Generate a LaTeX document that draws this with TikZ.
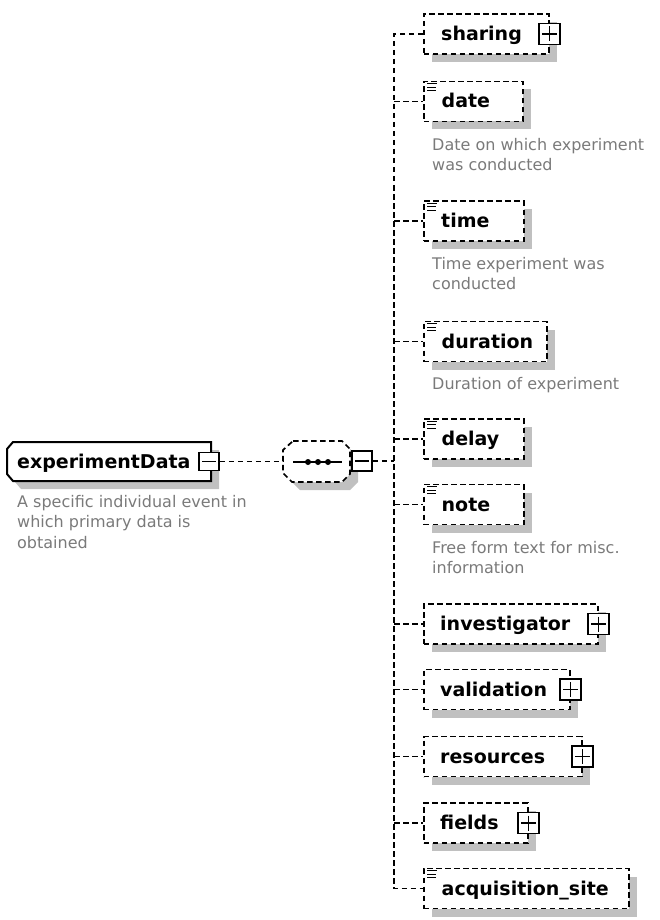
\documentclass[tikz,border=0pt]{standalone}
\usepackage{fontspec}
\setmainfont{DejaVu Sans}
\usetikzlibrary{calc,shadows}
\definecolor{shd}{HTML}{C0C0C0}
\definecolor{desc}{HTML}{7A7A7A}
\tikzset{
  dl/.style={line width=1.7pt, dash pattern=on 5.5pt off 3.5pt},
  ebox/.style={draw, line width=1.7pt, dash pattern=on 5.5pt off 3.5pt, fill=white,
    anchor=west, inner sep=0pt, minimum height=40pt,
    general shadow={fill=shd, shadow xshift=8pt, shadow yshift=-8pt}},
  lbl/.style={font=\fontsize{19}{23}\selectfont\bfseries, anchor=base west, inner sep=0pt},
  dsc/.style={font=\fontsize{16}{20}\selectfont, text=desc, anchor=base west, inner sep=0pt},
  tog/.style={draw, line width=1.5pt, solid, fill=white, minimum width=20pt, minimum height=20pt, inner sep=0pt},
  togm/.style={tog, path picture={\draw[line width=1.5pt]
      ([xshift=3pt]path picture bounding box.west) -- ([xshift=-3pt]path picture bounding box.east);}},
  togp/.style={tog, path picture={\draw[line width=1.5pt]
      ([xshift=3pt]path picture bounding box.west) -- ([xshift=-3pt]path picture bounding box.east)
      ([yshift=-3pt]path picture bounding box.north) -- ([yshift=3pt]path picture bounding box.south);}},
  icon/.style={line width=1.2pt}
}
\newcommand\simpleicon[1]{%
  \draw[icon] ($(#1.north west)+(4,3)$) -- ++(10,0);
  \draw[icon] ($(#1.north west)+(4,6.5)$) -- ++(9,0);
  \draw[icon] ($(#1.north west)+(4,10)$) -- ++(9,0);}
\begin{document}
\begin{tikzpicture}[x=1pt,y=-1pt]
\useasboundingbox (0,0) rectangle (660,920);

% root element
\fill[shd] (21,450) -- (219,450) -- (219,489) -- (21,489) -- (15,482) -- (15,457) -- cycle;
\draw[line width=2pt, fill=white] (13,442) -- (211,442) -- (211,481) -- (13,481) -- (7,474) -- (7,449) -- cycle;
\node[lbl] (rootlbl) at (17,468) {experimentData};
\node[togm, minimum height=18pt] (rootm) at (209,461.5) {};
\node[dsc] (rd1) at (17,507) {A specific individual event in};
\node[dsc] (rd2) at (17,527.5) {which primary data is};
\node[dsc] (rd3) at (17,548) {obtained};

% sequence compositor
\fill[shd] (301,449) -- (350,449) -- (358,457) -- (358,482) -- (350,490) -- (300,490) -- (291,481) -- (291,458) -- cycle;
\draw[dl, fill=white] (293,441) -- (342,441) -- (350,449) -- (350,474) -- (342,482) -- (292,482) -- (283,473) -- (283,450) -- cycle;
\node[minimum width=67pt, minimum height=41pt, inner sep=0pt] (seq) at (316.5,461.5) {};
\draw[line width=1.8pt] (293,462) -- (342,462);
\fill (308,462) circle (3) (318,462) circle (3) (328,462) circle (3);
\node[togm] (seqm) at (362,461) {};
\coordinate (junc) at (394,461);

\draw[dl] (rootm.east) -- (seq.west);
\draw[dl] (seqm.east) -- (junc);

% children
\node[ebox, minimum width=125pt] (sharing) at (423,34) {};
\node[lbl] (sharinglbl) at (441,40.5) {sharing};
\node[togp, minimum width=21pt, minimum height=21pt] (sharingp) at (sharing.east) {};

\node[ebox, minimum width=99pt] (date) at (423,101.5) {};
\simpleicon{date}
\node[lbl] (datelbl) at (441.5,108) {date};
\node[dsc] (dd1) at (432,150.5) {Date on which experiment};
\node[dsc] (dd2) at (432,171) {was conducted};

\node[ebox, minimum width=100pt] (time) at (423,221) {};
\simpleicon{time}
\node[lbl] (timelbl) at (441,227.5) {time};
\node[dsc] (td1) at (432,269) {Time experiment was};
\node[dsc] (td2) at (432,289.5) {conducted};

\node[ebox, minimum width=123pt] (duration) at (423,341.5) {};
\simpleicon{duration}
\node[lbl] (durationlbl) at (441.5,348) {duration};
\node[dsc] (dud1) at (432,389) {Duration of experiment};

\node[ebox, minimum width=100pt] (delay) at (423,439) {};
\simpleicon{delay}
\node[lbl] (delaylbl) at (441.5,445.5) {delay};

\node[ebox, minimum width=100pt] (note) at (423,504.5) {};
\simpleicon{note}
\node[lbl] (notelbl) at (441.5,511) {note};
\node[dsc] (nd1) at (432,553) {Free form text for misc.};
\node[dsc] (nd2) at (432,573.5) {information};

\node[ebox, minimum width=174pt] (investigator) at (423,624) {};
\node[lbl] (investigatorlbl) at (440,630.5) {investigator};
\node[togp, minimum width=21pt, minimum height=21pt] (investigatorp) at (investigator.east) {};

\node[ebox, minimum width=146pt] (validation) at (423,689.5) {};
\node[lbl] (validationlbl) at (440,696) {validation};
\node[togp, minimum width=21pt, minimum height=21pt] (validationp) at (validation.east) {};

\node[ebox, minimum width=158pt] (resources) at (423,756.5) {};
\node[lbl] (resourceslbl) at (440,763) {resources};
\node[togp, minimum width=21pt, minimum height=21pt] (resourcesp) at (resources.east) {};

\node[ebox, minimum width=104pt] (fields) at (423,823) {};
\node[lbl] (fieldslbl) at (440,829.5) {fields};
\node[togp, minimum width=21pt, minimum height=21pt] (fieldsp) at (fields.east) {};

\node[ebox, minimum width=205pt] (acq) at (423,888.5) {};
\simpleicon{acq}
\node[lbl] (acqlbl) at (441.5,895) {acquisition\_site};

% connectors
\draw[dl] (sharing.west) -- (sharing.west -| junc) -- (acq.west -| junc) -- (acq.west);
\foreach \c in {date,time,duration,delay,note,investigator,validation,resources,fields}
  \draw[dl] (\c.west -| junc) -- (\c.west);
\end{tikzpicture}
\end{document}
